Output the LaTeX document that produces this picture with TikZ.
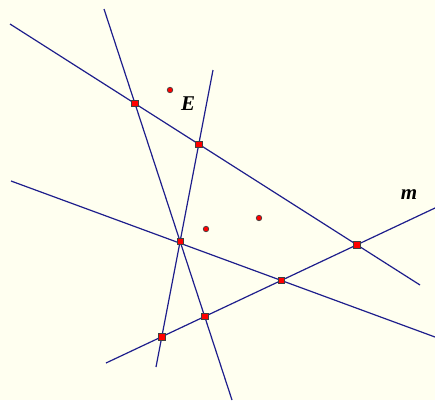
\documentclass[tikz,border=0pt]{standalone}
\usepackage{fontspec}
\setmainfont{Liberation Serif}
\definecolor{bg}{HTML}{FFFFF0}
\definecolor{ln}{HTML}{1E1E8C}
\begin{document}
\begin{tikzpicture}[x=1pt,y=-1pt,
  gline/.style={draw=ln,line width=1.2pt},
  sqpt/.style={draw=black!75,fill=red,rectangle,minimum size=6.5pt,inner sep=0pt,line width=0.7pt},
  cpt/.style={draw=black!75,fill=red,circle,minimum size=5.5pt,inner sep=0pt,line width=0.7pt},
  lbl/.style={font=\fontsize{21}{21}\selectfont\bfseries\itshape}]
\fill[bg] (0,0) rectangle (435,400);
\useasboundingbox (0,0) rectangle (435,400);
% line end points
\coordinate (a1) at (104,9);   \coordinate (a2) at (232,400);
\coordinate (b1) at (213,70);  \coordinate (b2) at (156,367);
\coordinate (c1) at (10,24);   \coordinate (c2) at (420,285);
\coordinate (d1) at (11,181);  \coordinate (d2) at (435,337);
\coordinate (m1) at (106,363); \coordinate (m2) at (435,208);
\draw[gline] (a1) -- (a2);
\draw[gline] (b1) -- (b2);
\draw[gline] (c1) -- (c2);
\draw[gline] (d1) -- (d2);
\draw[gline] (m1) -- (m2);
% intersection points
\node[sqpt] (p1) at (intersection of a1--a2 and c1--c2) {};
\node[sqpt] (p2) at (intersection of b1--b2 and c1--c2) {};
\node[sqpt] (p3) at (intersection of a1--a2 and b1--b2) {};
\node[sqpt] (p4) at (intersection of c1--c2 and m1--m2) {};
\node[sqpt] (p5) at (intersection of d1--d2 and m1--m2) {};
\node[sqpt] (p6) at (intersection of a1--a2 and m1--m2) {};
\node[sqpt] (p7) at (intersection of b1--b2 and m1--m2) {};
% free points
\node[cpt] (e) at (170,90) {};
\node[cpt] (f) at (206,229) {};
\node[cpt] (g) at (259,218) {};
% labels
\node[lbl] (le) at (188,104) {E};
\node[lbl] (lm) at (409,195) {m};
\end{tikzpicture}
\end{document}
